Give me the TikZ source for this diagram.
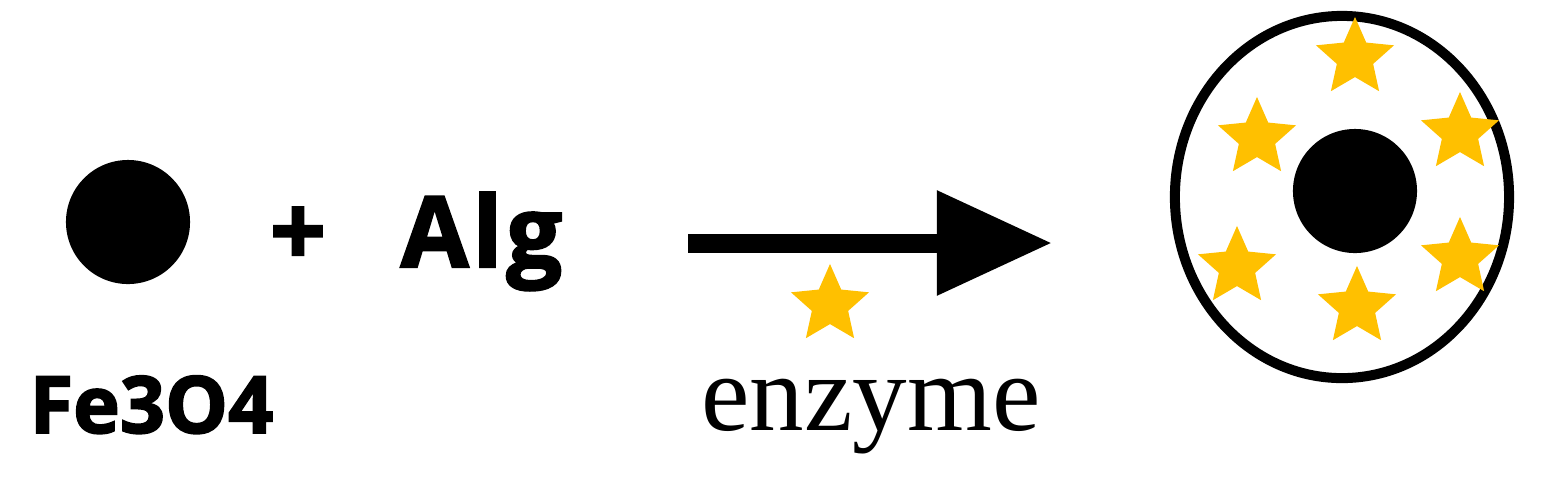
\documentclass[tikz,border=0pt]{standalone}
\usepackage{fontspec}
\setmainfont{Liberation Serif}
\newfontfamily\labfont{Open Sans}[BoldFeatures={FakeBold=2.2,LetterSpace=4}]
\newfontfamily\formulafont{Open Sans}[BoldFeatures={FakeBold=2.2}]
\usetikzlibrary{shapes.geometric,arrows.meta}
\definecolor{gold}{HTML}{FFC000}
\begin{document}
\begin{tikzpicture}[x=0.01cm,y=-0.01cm,
  particle/.style={circle,fill=black,inner sep=0,minimum size=1.24cm},
  enz/.style={star,star points=5,star point ratio=2.15,fill=gold,inner sep=0,minimum size=0.82cm},
  lab/.style={font=\labfont\bfseries\fontsize{28}{30}\selectfont,inner sep=0},
  smalllab/.style={font=\formulafont\bfseries\fontsize{22.5}{26}\selectfont,inner sep=0},
  serif/.style={font=\fontsize{31}{34}\selectfont,inner sep=0},
  reaction/.style={line width=0.19cm,-{Triangle[length=1.15cm,width=1.0cm]}},
  shell/.style={draw,ellipse,line width=0.1cm,inner sep=0,minimum width=3.34cm,minimum height=3.62cm}]
\useasboundingbox (0,0) rectangle (1556,484);
% reactants
\node[particle] (fe) at (128,222) {};
\node[smalllab,anchor=base west] (fename) at (29,433) {Fe3O4};
\node[lab,anchor=base] (plus) at (298,266) {+};
\node[lab,anchor=base west] (alg) at (400,267) {Alg};
% arrow
\coordinate (a1) at (688,243);
\coordinate (a2) at (1052,243);
\draw[reaction] (a1) -- (a2);
\node[enz] (e0) at (830,305) {};
\node[serif,anchor=base] (enzname) at (871,430) {enzyme};
% product
\node[shell] (shell) at (1342,197) {};
\node[particle] (core) at (1355,191) {};
\node[enz] (s1) at (1355,58) {};
\node[enz] (s2) at (1257,138) {};
\node[enz] (s3) at (1460,133) {};
\node[enz] (s4) at (1237,267) {};
\node[enz] (s5) at (1357,307) {};
\node[enz] (s6) at (1460,258) {};
\end{tikzpicture}
\end{document}
